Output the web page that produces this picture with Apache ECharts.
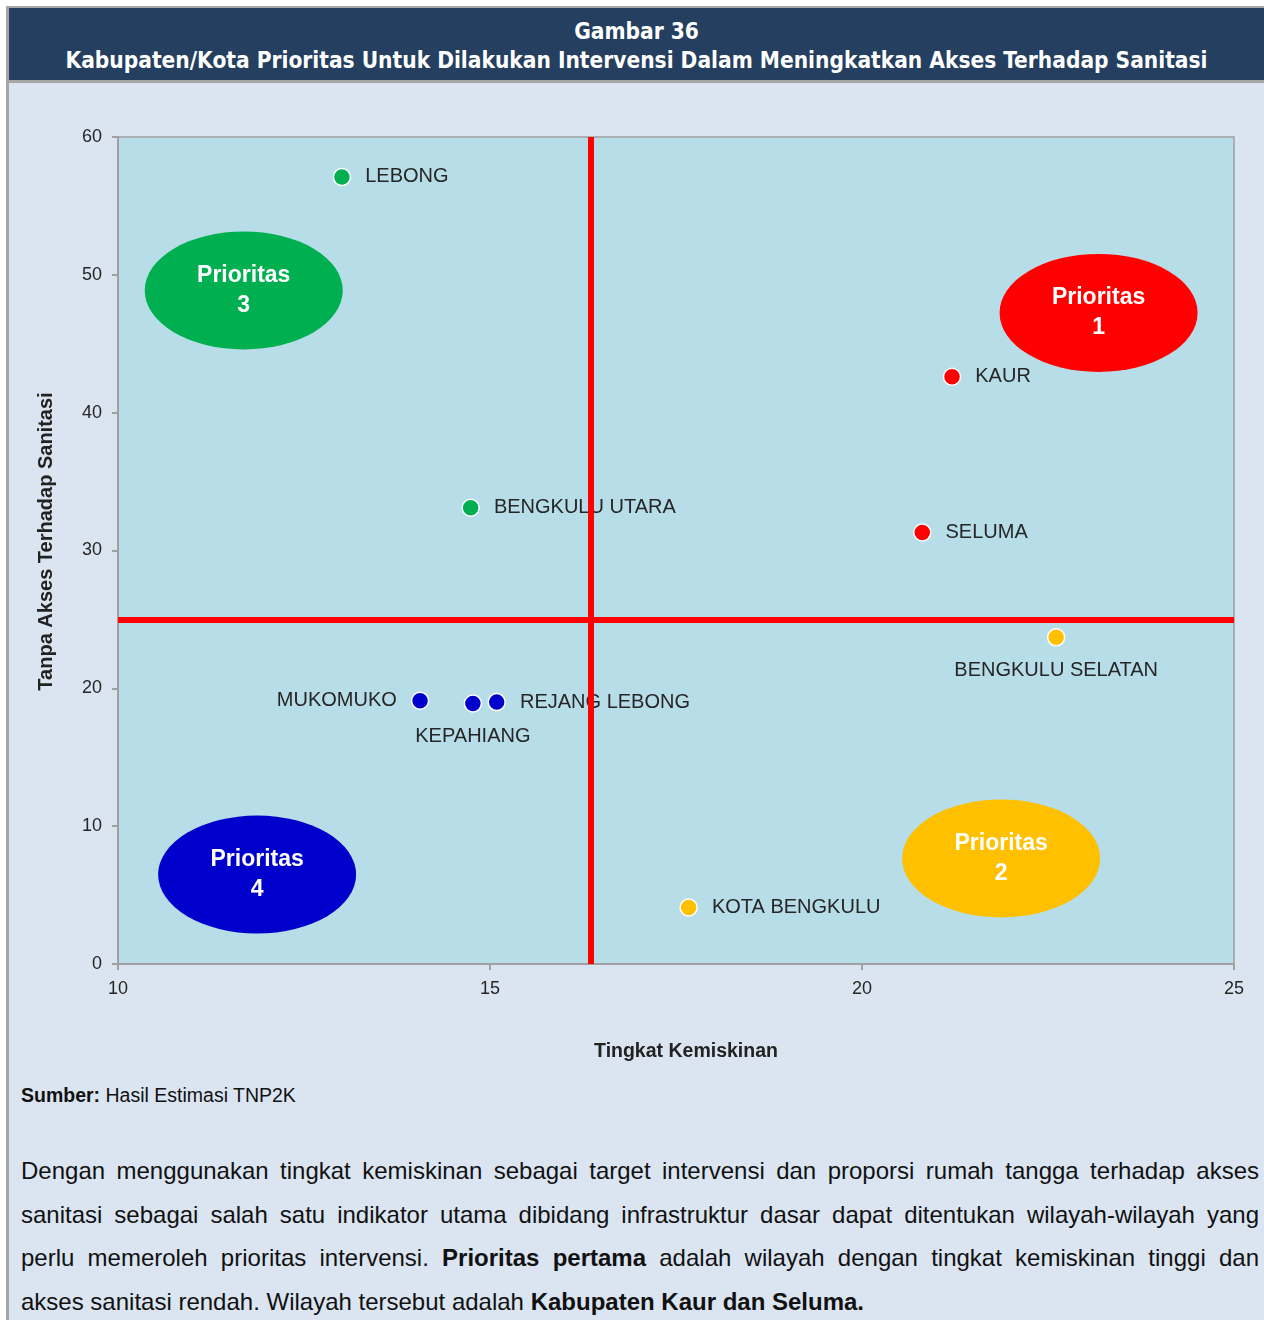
<!DOCTYPE html>
<html>
<head>
<meta charset="utf-8">
<script src="https://cdn.jsdelivr.net/npm/echarts@6/dist/echarts.min.js"></script>
<style>
  body { margin: 0; background: #fff; }
  #page { position: absolute; left: 6px; top: 6px; width: 1255px; height: 1314px; background: #DBE5F1; border-left: 3px solid #A6A6A6; }
  #head { position: absolute; left: 0; top: 0; width: 1255px; background: #243F60; border-top: 2px solid #A6A6A6; border-bottom: 3px solid #A6A6A6;
          color: #fff; text-align: center; font-family: 'DejaVu Sans Condensed', 'DejaVu Sans', sans-serif; font-weight: bold; font-size: 22.5px; line-height: 29px; padding-top: 9px; box-sizing: border-box; height: 77px; }
  #chart { position: absolute; left: 1px; top: 77px; width: 1254px; height: 1000px; }
  #sumber { position: absolute; left: 12px; top: 1078px; font-family: 'Liberation Sans', Arial, sans-serif; font-size: 19.5px; color: #111; }
  #teks { position: absolute; left: 12px; top: 1143px; width: 1238px; font-family: 'Liberation Sans', Arial, sans-serif; font-size: 24px; line-height: 43.5px; color: #111; }
  #teks div { text-align: justify; text-align-last: justify; white-space: nowrap; }
  #teks div.akhir { text-align-last: left; }
</style>
</head>
<body>
<div id="page">
  <div id="head">Gambar 36<br>Kabupaten/Kota Prioritas Untuk Dilakukan Intervensi Dalam Meningkatkan Akses Terhadap Sanitasi</div>
  <div id="chart"></div>
  <div id="sumber"><b>Sumber:</b> Hasil Estimasi TNP2K</div>
  <div id="teks">
    <div>Dengan menggunakan tingkat kemiskinan sebagai target intervensi dan proporsi rumah tangga terhadap akses</div>
    <div>sanitasi sebagai salah satu indikator utama dibidang infrastruktur dasar dapat ditentukan wilayah-wilayah yang</div>
    <div>perlu memeroleh prioritas intervensi. <b>Prioritas pertama</b> adalah wilayah dengan tingkat kemiskinan tinggi dan</div>
    <div class="akhir">akses sanitasi rendah. Wilayah tersebut adalah <b>Kabupaten Kaur dan Seluma.</b></div>
  </div>
</div>
<script>
// data
const kabupaten = ['LEBONG', 'BENGKULU UTARA', 'KAUR', 'SELUMA', 'BENGKULU SELATAN', 'MUKOMUKO', 'KEPAHIANG', 'REJANG LEBONG', 'KOTA BENGKULU']
const kemiskinan = [13.01, 14.74, 21.21, 20.81, 22.61, 14.06, 14.77, 15.09, 17.67]
const tanpaAkses = [57.1, 33.1, 42.6, 31.3, 23.7, 19.1, 18.9, 19.0, 4.1]
const prioritas = [3, 3, 1, 1, 2, 4, 4, 4, 2]

const garisKemiskinan = 16.36
const garisSanitasi = 25

const kuadranNama = ['Prioritas\n1', 'Prioritas\n2', 'Prioritas\n3', 'Prioritas\n4']
const kuadranX = [23.18, 21.87, 11.69, 11.87]
const kuadranY = [47.24, 7.66, 48.87, 6.49]

const xTicks = [10, 15, 20, 25]
const yTicks = [0, 10, 20, 30, 40, 50, 60]

// styles
const warna = { 1: '#FF0000', 2: '#FFC000', 3: '#00B050', 4: '#0000CC' }
const posisiLabel = {
  'MUKOMUKO': 'left',
  'KEPAHIANG': 'bottom',
  'BENGKULU SELATAN': 'bottom'
}
const fontNarrow = "'Liberation Sans Narrow', 'Arial Narrow', 'Liberation Sans', sans-serif"
const fontBiasa = "'Liberation Sans', Arial, sans-serif"

const titik = kabupaten.map((nama, i) => ({
  name: nama,
  value: [kemiskinan[i], tanpaAkses[i]],
  itemStyle: { color: warna[prioritas[i]] },
  label: { position: posisiLabel[nama] || 'right' }
}))

const elips = kuadranNama.map((nama, i) => ({
  name: nama,
  value: [kuadranX[i], kuadranY[i]],
  itemStyle: { color: warna[i + 1], opacity: 1 }
}))

var myChart = echarts.init(document.getElementById('chart'))
myChart.setOption({
  animation: false,
  backgroundColor: 'transparent',
  grid: {
    left: 108, top: 54, width: 1116, height: 827,
    show: true, backgroundColor: '#B7DDE8', borderColor: '#A0A0A0', borderWidth: 1.5
  },
  xAxis: {
    type: 'value', min: xTicks[0], max: xTicks[xTicks.length - 1], interval: 5,
    name: 'Tingkat Kemiskinan', nameLocation: 'middle', nameGap: 78,
    nameTextStyle: { fontFamily: fontBiasa, fontWeight: 'bold', fontSize: 19.5, color: '#222', padding: [0, 0, 0, 20] },
    axisLine: { lineStyle: { color: '#A0A0A0', width: 2 } },
    axisTick: { show: true, length: 6, lineStyle: { color: '#A0A0A0', width: 2 } },
    axisLabel: { fontFamily: fontBiasa, fontSize: 18, color: '#262626', margin: 16 },
    splitLine: { show: false }
  },
  yAxis: {
    type: 'value', min: yTicks[0], max: yTicks[yTicks.length - 1], interval: 10,
    name: 'Tanpa Akses Terhadap Sanitasi', nameLocation: 'middle', nameGap: 62,
    nameTextStyle: { fontFamily: fontBiasa, fontWeight: 'bold', fontSize: 20, color: '#222', padding: [0, 0, 0, 18] },
    axisLine: { lineStyle: { color: '#A0A0A0', width: 2 } },
    axisTick: { show: true, length: 6, lineStyle: { color: '#A0A0A0', width: 2 } },
    axisLabel: { fontFamily: fontBiasa, fontSize: 18, color: '#262626', margin: 16 },
    splitLine: { show: false }
  },
  series: [
    {
      type: 'scatter',
      z: 1,
      silent: true,
      symbol: 'path://M0,50A50,50,0,1,1,100,50A50,50,0,1,1,0,50Z',
      symbolSize: [198, 118],
      data: elips,
      label: {
        show: true, position: 'inside', formatter: '{b}',
        color: '#fff', fontFamily: fontNarrow, fontWeight: 'bold', fontSize: 23, lineHeight: 30
      }
    },
    {
      type: 'scatter',
      z: 2,
      silent: true,
      data: [],
      markLine: {
        silent: true,
        symbol: ['none', 'none'],
        label: { show: false },
        lineStyle: { color: '#FF0000', width: 6, type: 'solid' },
        data: [{ xAxis: garisKemiskinan }, { yAxis: garisSanitasi }]
      }
    },
    {
      type: 'scatter',
      z: 3,
      symbolSize: 17,
      itemStyle: { borderColor: '#fff', borderWidth: 1.5, opacity: 1 },
      data: titik,
      label: {
        show: true, formatter: '{b}', distance: 14,
        fontFamily: fontBiasa, fontSize: 20, color: '#262626'
      }
    }
  ]
})
</script>
</body>
</html>
